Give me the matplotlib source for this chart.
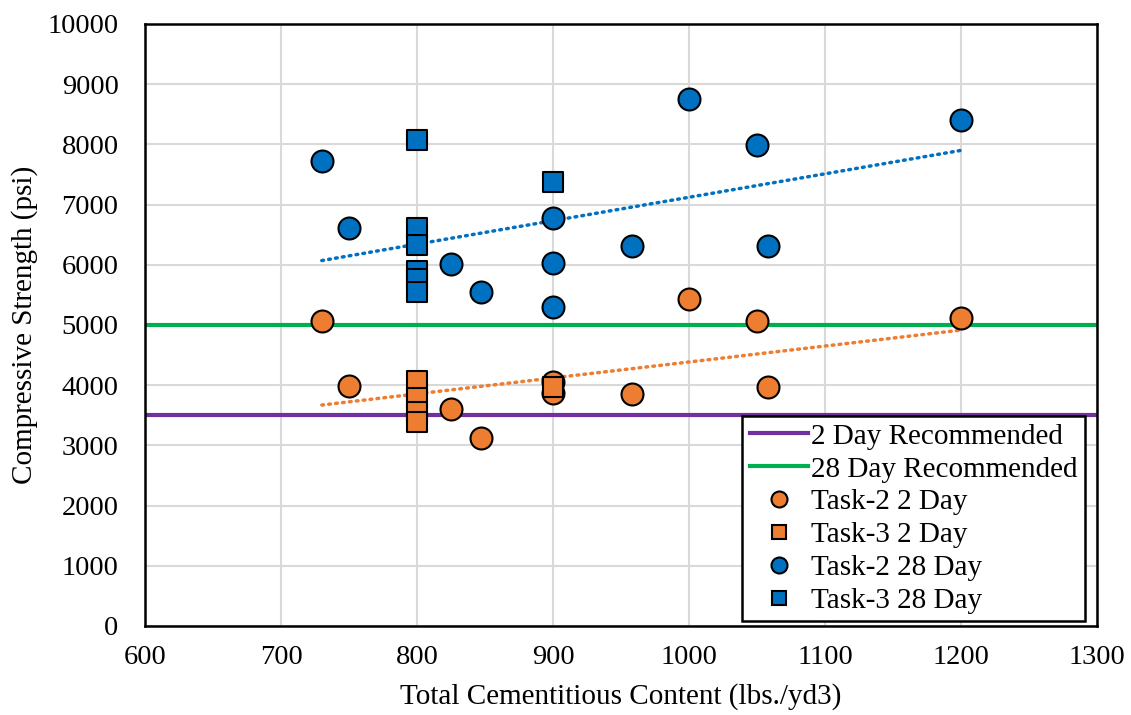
import numpy as np
import matplotlib
matplotlib.use('Agg')
import matplotlib.pyplot as plt
from matplotlib.lines import Line2D

plt.rcParams['font.family'] = ['Liberation Serif', 'DejaVu Serif']

# Task-2 2 day
t2_2d_x = [730, 750, 825, 847, 900, 900, 958, 1000, 1050, 1058, 1200]
t2_2d_y = [5060, 3990, 3600, 3120, 3870, 4060, 3855, 5430, 5060, 3970, 5120]
# Task-3 2 day
t3_2d_x = [800, 800, 800, 800, 900]
t3_2d_y = [4070, 3780, 3550, 3380, 3975]
# Task-2 28 day
t2_28d_x = [730, 750, 825, 847, 900, 900, 900, 958, 1000, 1050, 1058, 1200]
t2_28d_y = [7720, 6610, 6010, 5540, 6775, 6025, 5295, 6305, 8750, 7990, 6305, 8410]
# Task-3 28 day
t3_28d_x = [800, 800, 800, 800, 800, 800, 900]
t3_28d_y = [8080, 6610, 6320, 5900, 5770, 5550, 7370]

# trendline endpoints
trend_x = [730, 1200]
trend_2d = [3670, 4915]
trend_28d = [6070, 7900]

rec_2d = 3500
rec_28d = 5000

orange = '#ED7D31'
blue = '#0070C0'
purple = '#7030A0'
green = '#00B050'

fig = plt.figure(figsize=(11.31, 7.15), dpi=100)
ax = fig.add_axes([0.1282, 0.1245, 0.8418, 0.842])

ax.axhline(rec_2d, color=purple, lw=3, zorder=2)
ax.axhline(rec_28d, color=green, lw=3, zorder=2)

ax.plot(trend_x, trend_2d, color=orange, lw=2.5, linestyle=(0, (0.5, 1.5)),
        dash_capstyle='round', zorder=2)
ax.plot(trend_x, trend_28d, color=blue, lw=2.5, linestyle=(0, (0.5, 1.5)),
        dash_capstyle='round', zorder=2)

ax.scatter(t2_2d_x, t2_2d_y, s=250, marker='o', color=orange, edgecolor='black', lw=1.5, zorder=3)
ax.scatter(t3_2d_x, t3_2d_y, s=210, marker='s', color=orange, edgecolor='black', lw=1.5, zorder=3)
ax.scatter(t2_28d_x, t2_28d_y, s=250, marker='o', color=blue, edgecolor='black', lw=1.5, zorder=3)
ax.scatter(t3_28d_x, t3_28d_y, s=210, marker='s', color=blue, edgecolor='black', lw=1.5, zorder=3)

ax.set_xlim(600, 1300)
ax.set_ylim(0, 10000)
ax.set_xticks(np.arange(600, 1301, 100))
ax.set_yticks(np.arange(0, 10001, 1000))
ax.grid(True, color='#D9D9D9', lw=1.5, zorder=0)
ax.set_axisbelow(True)
ax.tick_params(length=0, labelsize=20.5)
ax.tick_params(axis='x', pad=14)
ax.tick_params(axis='y', pad=19)
for s in ax.spines.values():
    s.set_linewidth(1.8)
    s.set_color('black')

ax.set_xlabel('Total Cementitious Content (lbs./yd3)', fontsize=21, labelpad=9)
ax.set_ylabel('Compressive Strength (psi)', fontsize=21, labelpad=7)

handles = [
    Line2D([], [], color=purple, lw=3),
    Line2D([], [], color=green, lw=3),
    Line2D([], [], ls='', marker='o', ms=11.5, mfc=orange, mec='black', mew=1.5),
    Line2D([], [], ls='', marker='s', ms=10.5, mfc=orange, mec='black', mew=1.5),
    Line2D([], [], ls='', marker='o', ms=11.5, mfc=blue, mec='black', mew=1.5),
    Line2D([], [], ls='', marker='s', ms=10.5, mfc=blue, mec='black', mew=1.5),
]
labels = ['2 Day Recommended', '28 Day Recommended', 'Task-2 2 Day',
          'Task-3 2 Day', 'Task-2 28 Day', 'Task-3 28 Day']
leg = ax.legend(handles, labels, loc='lower right', bbox_to_anchor=(0.987, 0.008),
                fontsize=21, frameon=True, fancybox=False, edgecolor='black',
                framealpha=1, handlelength=2.0, handletextpad=0.1,
                labelspacing=0.22, borderpad=0.25, borderaxespad=0)
leg.get_frame().set_linewidth(1.8)

fig.savefig('out.png', dpi=100)
